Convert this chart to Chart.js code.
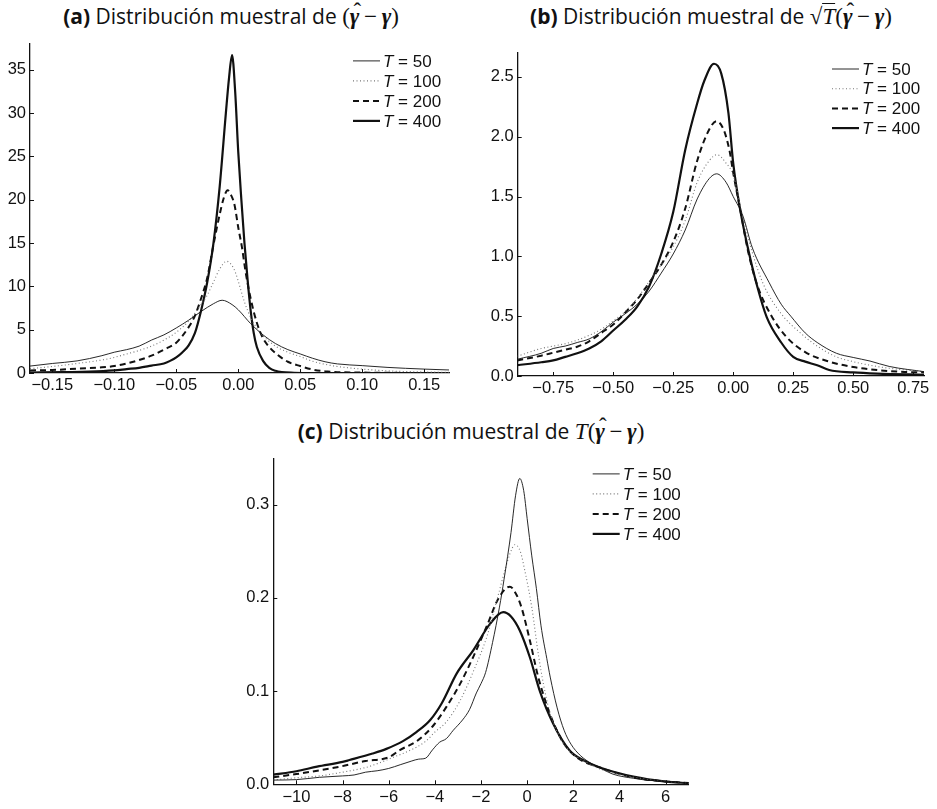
<!DOCTYPE html>
<html>
<head>
<meta charset="utf-8">
<script src="https://cdn.jsdelivr.net/npm/chart.js@4.4.0/dist/chart.umd.min.js"></script>
<style>
  body { margin: 0; background: #fff; width: 937px; height: 809px; position: relative; overflow: hidden; }
  canvas { position: absolute; }
  .ttl { position: absolute; white-space: nowrap; transform: translateX(-50%); font-family: "Open Sans", sans-serif; font-size: 21px; line-height: 26px; color: #111; }
  .ttl b { font-weight: 700; }
  .mr { font-family: "Liberation Serif", serif; font-size: 23px; }
  .mg { font-family: "Liberation Serif", serif; font-size: 23px; font-style: italic; font-weight: 700; }
  .mt { font-family: "Liberation Serif", serif; font-size: 23px; font-style: italic; }
  .hat { position: relative; display: inline-block; }
  .hat::after { content: "\02C6"; position: absolute; left: 0.16em; top: -0.22em; font-style: normal; font-weight: 400; }
  .ov { border-top: 1.4px solid #111; padding-top: 0px; }
</style>
</head>
<body>
<div class="ttl" style="left:231px;top:3px"><b>(a)</b> Distribución muestral de <span class="mr">(</span><span class="mg hat">γ</span><span class="mr">&thinsp;−&thinsp;</span><span class="mg">γ</span><span class="mr">)</span></div>
<div class="ttl" style="left:711px;top:3px"><b>(b)</b> Distribución muestral de <span class="mr">√</span><span class="mt ov">T</span><span class="mr">(</span><span class="mg hat">γ</span><span class="mr">&thinsp;−&thinsp;</span><span class="mg">γ</span><span class="mr">)</span></div>
<div class="ttl" style="left:471px;top:418px"><b>(c)</b> Distribución muestral de <span class="mt">T</span><span class="mr">(</span><span class="mg hat">γ</span><span class="mr">&thinsp;−&thinsp;</span><span class="mg">γ</span><span class="mr">)</span></div>

<canvas id="chartA" width="465" height="375" style="left:0px;top:30px"></canvas>
<canvas id="chartB" width="467" height="375" style="left:470px;top:30px"></canvas>
<canvas id="chartC" width="490" height="364" style="left:215px;top:445px"></canvas>

<script>
// series labels
var seriesNames = ['50', '100', '200', '400'];

// (a) distribución de (gamma_hat - gamma)
var a50x = [-0.168,-0.15,-0.13,-0.11,-0.10,-0.09,-0.08,-0.07,-0.06,-0.05,-0.04,-0.03,-0.02,-0.013,-0.005,0,0.01,0.02,0.03,0.04,0.05,0.06,0.07,0.08,0.10,0.12,0.15,0.17];
var a50y = [0.8,1.1,1.4,2.0,2.4,2.7,3.1,3.8,4.4,5.2,6.1,7.1,8.0,8.4,7.9,7.3,5.7,4.4,3.4,2.7,2.2,1.7,1.3,1.05,0.85,0.65,0.45,0.35];
var a100x = [-0.168,-0.15,-0.13,-0.11,-0.10,-0.09,-0.08,-0.07,-0.06,-0.05,-0.04,-0.03,-0.025,-0.02,-0.015,-0.0094,-0.005,-0.002,0,0.005,0.01,0.015,0.02,0.03,0.04,0.05,0.06,0.07,0.08,0.1,0.12,0.15,0.17];
var a100y = [0.5,0.75,1.1,1.5,1.8,2.2,2.6,3.1,3.8,4.7,6.0,7.9,9.0,10.5,12,12.9,12.4,11.5,10.6,8.2,6.4,5.2,4.3,3.1,2.4,1.9,1.35,1.0,0.75,0.45,0.25,0.12,0.08];
var a200x = [-0.168,-0.15,-0.13,-0.11,-0.10,-0.09,-0.08,-0.07,-0.06,-0.05,-0.045,-0.04,-0.035,-0.03,-0.025,-0.02,-0.015,-0.0115,-0.0086,-0.006,-0.003,0,0.003,0.006,0.01,0.015,0.02,0.025,0.03,0.04,0.05,0.06,0.07,0.08,0.1,0.12,0.17];
var a200y = [0.3,0.35,0.5,0.65,0.8,1.1,1.5,2.0,2.7,3.5,4.3,5.3,6.6,8.6,11.0,14.8,18.3,20.3,21.1,20.6,19.4,16.8,14.5,11.6,8.6,5.8,4.0,3.0,2.3,1.3,0.8,0.4,0.2,0.1,0.05,0.02,0];
var a400x = [-0.168,-0.14,-0.12,-0.10,-0.09,-0.08,-0.07,-0.06,-0.055,-0.05,-0.045,-0.04,-0.035,-0.03,-0.025,-0.02,-0.015,-0.01,-0.0075,-0.005,-0.0025,0,0.0025,0.005,0.0075,0.01,0.0125,0.015,0.02,0.025,0.03,0.035,0.045,0.06,0.17];
var a400y = [0.05,0.1,0.15,0.3,0.45,0.6,0.85,1.1,1.4,1.8,2.4,3.2,4.6,7.2,10.5,15,21.5,30,34,36.7,32.5,25.5,20,15,10.8,7.2,4.6,3,1.4,0.6,0.25,0.1,0.03,0,0];
var aXTicks = [-0.15,-0.10,-0.05,0,0.05,0.10,0.15];
var aXLabels = ['\u22120.15','\u22120.10','\u22120.05','0.00','0.05','0.10','0.15'];
var aYTicks = [0,5,10,15,20,25,30,35];
var aYLabels = ['0','5','10','15','20','25','30','35'];

// (b) distribución de sqrt(T)(gamma_hat - gamma)
var b50x = [-0.9,-0.8,-0.75,-0.7,-0.65,-0.6,-0.55,-0.5,-0.45,-0.4,-0.35,-0.3,-0.25,-0.2,-0.15,-0.1,-0.069,-0.03,0,0.04,0.08,0.15,0.2,0.24,0.3,0.35,0.43,0.5,0.57,0.65,0.8];
var b50y = [0.14,0.19,0.23,0.25,0.28,0.31,0.37,0.45,0.52,0.60,0.71,0.86,1.02,1.22,1.48,1.65,1.69,1.62,1.50,1.34,1.07,0.78,0.6,0.5,0.36,0.28,0.19,0.155,0.125,0.08,0.035];
var b100x = [-0.9,-0.8,-0.75,-0.7,-0.65,-0.6,-0.55,-0.5,-0.45,-0.4,-0.35,-0.3,-0.25,-0.2,-0.15,-0.1,-0.067,-0.03,0,0.04,0.08,0.125,0.2,0.28,0.35,0.43,0.5,0.57,0.65,0.8];
var b100y = [0.165,0.23,0.25,0.27,0.30,0.34,0.39,0.46,0.54,0.65,0.79,0.93,1.08,1.30,1.62,1.80,1.85,1.78,1.68,1.33,1.03,0.77,0.52,0.36,0.25,0.16,0.12,0.09,0.065,0.035];
var b200x = [-0.9,-0.8,-0.75,-0.7,-0.65,-0.6,-0.55,-0.5,-0.45,-0.4,-0.35,-0.3,-0.25,-0.2,-0.15,-0.1,-0.07,-0.04,-0.015,0,0.035,0.06,0.1,0.16,0.22,0.3,0.4,0.5,0.6,0.7,0.8];
var b200y = [0.13,0.17,0.195,0.22,0.245,0.29,0.36,0.43,0.53,0.64,0.78,0.93,1.12,1.40,1.80,2.06,2.13,2.06,1.88,1.70,1.33,1.06,0.76,0.50,0.33,0.2,0.12,0.075,0.05,0.035,0.03];
var b400x = [-0.9,-0.8,-0.75,-0.7,-0.65,-0.6,-0.55,-0.5,-0.45,-0.4,-0.35,-0.3,-0.25,-0.2,-0.15,-0.12,-0.08,-0.05,-0.02,0,0.03,0.06,0.1,0.14,0.2,0.25,0.3,0.35,0.4,0.5,0.6,0.8];
var b400y = [0.09,0.115,0.13,0.16,0.19,0.23,0.29,0.38,0.47,0.58,0.75,1.02,1.37,1.89,2.28,2.47,2.61,2.53,2.2,1.78,1.38,1.08,0.75,0.49,0.28,0.16,0.12,0.09,0.05,0.03,0.02,0.01];
var bXTicks = [-0.75,-0.50,-0.25,0,0.25,0.50,0.75];
var bXLabels = ['\u22120.75','\u22120.50','\u22120.25','0.00','0.25','0.50','0.75'];
var bYTicks = [0,0.5,1,1.5,2,2.5];
var bYLabels = ['0.0','0.5','1.0','1.5','2.0','2.5'];

// (c) distribución de T(gamma_hat - gamma)
var c50x = [-11,-10,-9,-8,-7.5,-7,-6.5,-6,-5.5,-5,-4.7,-4.4,-4.1,-3.8,-3.5,-3.2,-2.8,-2.5,-2.2,-2.0,-1.8,-1.5,-1.2,-1.0,-0.7,-0.5,-0.32,-0.15,0,0.2,0.4,0.6,0.85,1.0,1.3,1.6,1.9,2.3,2.8,3.2,3.7,4.2,4.6,5,6,7];
var c50y = [0.0045,0.005,0.0075,0.009,0.010,0.013,0.0145,0.017,0.021,0.025,0.027,0.028,0.037,0.045,0.049,0.058,0.069,0.08,0.098,0.108,0.12,0.152,0.19,0.22,0.27,0.31,0.328,0.315,0.285,0.245,0.21,0.17,0.135,0.115,0.082,0.058,0.043,0.031,0.022,0.017,0.011,0.008,0.0065,0.005,0.003,0.0015];
var c100x = [-11,-10,-9,-8,-7,-6.4,-5.8,-5.2,-4.4,-4.0,-3.5,-2.9,-2.3,-1.75,-1.35,-0.97,-0.75,-0.53,-0.3,-0.1,0.2,0.5,0.9,1.4,1.9,2.4,3.0,3.9,5,6,7];
var c100y = [0.0046,0.007,0.009,0.013,0.018,0.023,0.029,0.035,0.046,0.056,0.067,0.090,0.123,0.158,0.194,0.229,0.247,0.257,0.25,0.229,0.19,0.137,0.085,0.051,0.034,0.026,0.018,0.011,0.006,0.003,0.0015];
var c200x = [-11,-10,-9,-8.1,-7,-6,-5.5,-4.8,-4.1,-3.5,-2.9,-2.33,-1.76,-1.25,-0.75,-0.5,-0.25,0.12,0.48,0.98,1.4,1.7,2.2,3.15,4.6,6,7];
var c200y = [0.0075,0.011,0.015,0.019,0.025,0.029,0.037,0.046,0.062,0.083,0.108,0.137,0.169,0.199,0.212,0.205,0.19,0.154,0.115,0.076,0.052,0.04,0.028,0.018,0.0075,0.003,0.0015];
var c400x = [-11,-10,-9.1,-8,-7.7,-6.7,-6.1,-5.4,-4.8,-4.2,-3.7,-3.05,-2.33,-1.61,-1.04,-0.7,-0.32,0.12,0.55,1.13,1.85,2.5,3.15,4.6,6,7];
var c400y = [0.0103,0.014,0.019,0.024,0.026,0.033,0.038,0.046,0.056,0.069,0.087,0.119,0.144,0.172,0.1846,0.18,0.165,0.136,0.1,0.065,0.036,0.025,0.018,0.0082,0.0029,0.0012];
var cXTicks = [-10,-8,-6,-4,-2,0,2,4,6];
var cXLabels = ['\u221210','\u22128','\u22126','\u22124','\u22122','0','2','4','6'];
var cYTicks = [0,0.1,0.2,0.3];
var cYLabels = ['0.0','0.1','0.2','0.3'];

var tickFont = { family: '"Liberation Sans", Arial, sans-serif', size: 16.5 };

// line looks for T = 50, 100, 200, 400
var lineStyles = [
    { color: '#111', width: 0.9, dash: [] },
    { color: '#777', width: 1.1, dash: [1, 2.5] },
    { color: '#111', width: 2, dash: [6, 4] },
    { color: '#111', width: 2.2, dash: [] }
];

function pts(xs, ys) {
    return xs.map(function (x, i) { return { x: x, y: ys[i] }; });
}

// small inward tick marks on both axes
var inwardTicks = {
    id: 'inwardTicks',
    afterDraw: function (chart) {
        var ctx = chart.ctx, a = chart.chartArea;
        var xs = chart.scales.x, ys = chart.scales.y;
        ctx.save();
        ctx.strokeStyle = '#111';
        ctx.lineWidth = 1;
        ctx.beginPath();
        xs.ticks.forEach(function (t) {
            var p = Math.round(xs.getPixelForValue(t.value)) + 0.5;
            ctx.moveTo(p, a.bottom);
            ctx.lineTo(p, a.bottom - 4);
        });
        ys.ticks.forEach(function (t) {
            var p = Math.round(ys.getPixelForValue(t.value)) + 0.5;
            ctx.moveTo(a.left, p);
            ctx.lineTo(a.left + 4, p);
        });
        ctx.stroke();
        ctx.restore();
    }
};

// legend with italic T, drawn in the top right corner
var texLegend = {
    id: 'texLegend',
    afterDraw: function (chart, args, opts) {
        var ctx = chart.ctx, a = chart.chartArea;
        var x0 = a.right - opts.dx;
        ctx.save();
        chart.data.datasets.forEach(function (ds, i) {
            var y = a.top + opts.dy + i * opts.step;
            ctx.strokeStyle = ds.borderColor;
            ctx.lineWidth = ds.borderWidth;
            ctx.setLineDash(ds.borderDash || []);
            ctx.beginPath();
            ctx.moveTo(x0, y);
            ctx.lineTo(x0 + 27, y);
            ctx.stroke();
            ctx.setLineDash([]);
            ctx.fillStyle = '#111';
            ctx.textBaseline = 'middle';
            ctx.font = 'italic 17px "Liberation Sans", Arial, sans-serif';
            ctx.fillText('T', x0 + 30, y + 1);
            var w = ctx.measureText('T').width;
            ctx.font = '17px "Liberation Sans", Arial, sans-serif';
            ctx.fillText(' = ' + seriesNames[i], x0 + 30 + w, y + 1);
        });
        ctx.restore();
    }
};

function makeChart(id, series, cfg) {
    var datasets = series.map(function (s, i) {
        return {
            label: 'T = ' + seriesNames[i],
            data: pts(s[0], s[1]),
            borderColor: lineStyles[i].color,
            borderWidth: lineStyles[i].width,
            borderDash: lineStyles[i].dash,
            pointRadius: 0,
            fill: false,
            cubicInterpolationMode: 'monotone'
        };
    });
    return new Chart(document.getElementById(id).getContext('2d'), {
        type: 'line',
        data: { datasets: datasets },
        options: {
            responsive: false,
            animation: false,
            events: [],
            layout: { padding: cfg.padding },
            plugins: {
                legend: { display: false },
                tooltip: { enabled: false },
                texLegend: cfg.legend
            },
            scales: {
                x: {
                    type: 'linear',
                    min: cfg.xMin,
                    max: cfg.xMax,
                    afterBuildTicks: function (s) { s.ticks = cfg.xTicks.map(function (v) { return { value: v }; }); },
                    afterFit: function (s) { s.height = cfg.xHeight; },
                    grid: { display: true, drawOnChartArea: false, drawTicks: false },
                    border: { display: true, color: '#111', width: 1.3 },
                    ticks: {
                        autoSkip: false, maxRotation: 0, padding: 3, color: '#111', font: tickFont,
                        callback: function (v, i) { return cfg.xLabels[i]; }
                    }
                },
                y: {
                    type: 'linear',
                    min: 0,
                    max: cfg.yMax,
                    afterBuildTicks: function (s) { s.ticks = cfg.yTicks.map(function (v) { return { value: v }; }); },
                    afterFit: function (s) { s.width = cfg.yWidth; },
                    grid: { display: true, drawOnChartArea: false, drawTicks: false },
                    border: { display: true, color: '#111', width: 1.3 },
                    ticks: {
                        autoSkip: false, padding: 4, color: '#111', font: tickFont,
                        callback: function (v, i) { return cfg.yLabels[i]; }
                    }
                }
            }
        },
        plugins: [inwardTicks, texLegend]
    });
}

document.addEventListener('DOMContentLoaded', function () {
    makeChart('chartA', [[a50x, a50y], [a100x, a100y], [a200x, a200y], [a400x, a400y]], {
        xMin: -0.168, xMax: 0.170, yMax: 38,
        xTicks: aXTicks, xLabels: aXLabels, yTicks: aYTicks, yLabels: aYLabels,
        yWidth: 30, xHeight: 32,
        padding: { top: 13, right: 16, left: 0, bottom: 0 },
        legend: { dx: 96, dy: 17, step: 20 }
    });
    makeChart('chartB', [[b50x, b50y], [b100x, b100y], [b200x, b200y], [b400x, b400y]], {
        xMin: -0.898, xMax: 0.795, yMax: 2.70,
        xTicks: bXTicks, xLabels: bXLabels, yTicks: bYTicks, yLabels: bYLabels,
        yWidth: 47.7, xHeight: 29,
        padding: { top: 23, right: 13, left: 0, bottom: 0 },
        legend: { dx: 92, dy: 16, step: 19.7 }
    });
    makeChart('chartC', [[c50x, c50y], [c100x, c100y], [c200x, c200y], [c400x, c400y]], {
        xMin: -11.0, xMax: 7.0, yMax: 0.349,
        xTicks: cXTicks, xLabels: cXLabels, yTicks: cYTicks, yLabels: cYLabels,
        yWidth: 58.3, xHeight: 24.7,
        padding: { top: 12.7, right: 16.3, left: 0, bottom: 0 },
        legend: { dx: 96, dy: 15, step: 20 }
    });
});
</script>
</body>
</html>
